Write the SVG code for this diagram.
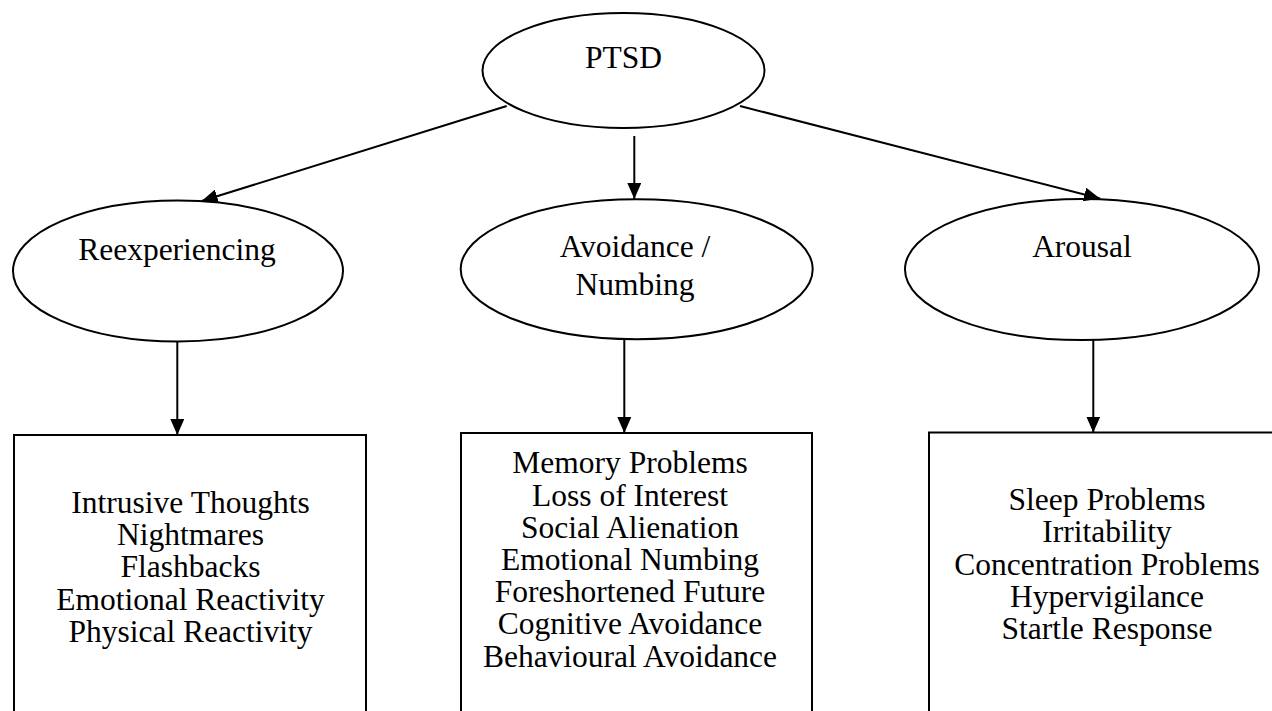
<svg xmlns="http://www.w3.org/2000/svg" width="1272" height="711" viewBox="0 0 1272 711">
<style>
.shape{fill:#fff;stroke:#000;stroke-width:2}
.t{font-family:"Liberation Serif","Times New Roman",serif;font-size:31.5px;fill:#000;text-anchor:middle}
.c{stroke:#000;stroke-width:2;fill:none;marker-end:url(#ah)}
</style>
<defs>
<marker id="ah" viewBox="0 0 16 14" refX="16" refY="7" markerWidth="16" markerHeight="14" markerUnits="userSpaceOnUse" orient="auto">
<path d="M0,0 L16,7 L0,14 Z" fill="#000"/>
</marker>
</defs>
<rect width="1272" height="711" fill="#fff"/>
<g id="ptsd">
<ellipse class="shape" cx="623.5" cy="70.5" rx="141" ry="57.5"/>
<text class="t" x="623.5" y="68">PTSD</text>
</g>
<g id="reexperiencing">
<ellipse class="shape" cx="178" cy="271" rx="165" ry="70.5"/>
<text class="t" x="177" y="260">Reexperiencing</text>
</g>
<g id="avoidance">
<ellipse class="shape" cx="636.7" cy="269.3" rx="176" ry="70"/>
<text class="t" x="635" y="257">Avoidance /</text>
<text class="t" x="635" y="295">Numbing</text>
</g>
<g id="arousal">
<ellipse class="shape" cx="1082" cy="269.5" rx="177" ry="70.5"/>
<text class="t" x="1082" y="257">Arousal</text>
</g>
<g id="box-reexperiencing">
<rect class="shape" x="14" y="435" width="352" height="290"/>
<text class="t" x="190.5" y="512.7">Intrusive Thoughts</text>
<text class="t" x="190.5" y="545">Nightmares</text>
<text class="t" x="190.5" y="577.3">Flashbacks</text>
<text class="t" x="190.5" y="609.6">Emotional Reactivity</text>
<text class="t" x="190.5" y="642">Physical Reactivity</text>
</g>
<g id="box-avoidance">
<rect class="shape" x="461" y="433" width="351" height="292"/>
<text class="t" x="630" y="473.3">Memory Problems</text>
<text class="t" x="630" y="505.5">Loss of Interest</text>
<text class="t" x="630" y="537.7">Social Alienation</text>
<text class="t" x="630" y="569.9">Emotional Numbing</text>
<text class="t" x="630" y="602.1">Foreshortened Future</text>
<text class="t" x="630" y="634.3">Cognitive Avoidance</text>
<text class="t" x="630" y="666.5">Behavioural Avoidance</text>
</g>
<g id="box-arousal">
<rect class="shape" x="929" y="432.5" width="370" height="292"/>
<text class="t" x="1107" y="510">Sleep Problems</text>
<text class="t" x="1107" y="542.3">Irritability</text>
<text class="t" x="1107" y="574.6">Concentration Problems</text>
<text class="t" x="1107" y="606.9">Hypervigilance</text>
<text class="t" x="1107" y="639.2">Startle Response</text>
</g>
<g id="connectors">
<line class="c" x1="506.7" y1="106" x2="201.7" y2="201"/>
<line class="c" x1="634.3" y1="136" x2="634.3" y2="199"/>
<line class="c" x1="740" y1="106" x2="1100" y2="198.5"/>
<line class="c" x1="177.3" y1="341.5" x2="177.3" y2="435"/>
<line class="c" x1="624.3" y1="339.3" x2="624.3" y2="433"/>
<line class="c" x1="1093.3" y1="340" x2="1093.3" y2="432.5"/>
</g>
</svg>
